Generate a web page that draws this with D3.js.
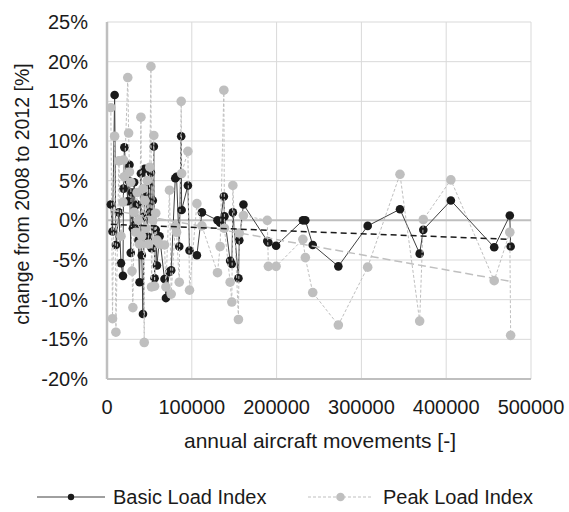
<!DOCTYPE html>
<html>
<head>
<meta charset="utf-8">
<script src="https://cdn.jsdelivr.net/npm/d3@7"></script>
<style>
  body { margin: 0; background: #fff; }
  text { font-family: "Liberation Sans", Arial, sans-serif; fill: #1a1a1a; }
</style>
</head>
<body>
<div id="chart"></div>
<script>
// annual aircraft movements per airport (x), sorted
const movements = [
    4500, 6500, 9000, 10500, 14000, 16500, 18800, 19500, 20500, 24500,
    25500, 26500, 28000, 29500, 30500, 32000, 34000, 35500, 37000, 38400,
    40000, 41000, 42400, 43900, 44500, 46000, 47500, 49000, 50500, 51800,
    52500, 54000, 55200, 56100, 57500, 58900, 62000, 67800, 69500, 73700,
    75700, 80500, 82000, 85200, 87500, 88000, 95400, 97300, 106000, 111900,
    130300, 133400, 137800, 138500, 145200, 147200, 148400, 155000, 156000, 160900,
    189000, 190300, 199400, 231000, 233900, 242600, 272800, 307400, 345500, 368700,
    373000, 405500, 456600, 475000, 476000
];
// change 2008 -> 2012 in %
const basicLoad = [
    2.0, -1.4, 15.8, -3.1, 1.0, -5.4, -7.0, 4.0, 9.2, 2.4,
    5.0, 7.0, -4.1, 3.5, -1.0, 4.8, -0.5, 2.0, -2.5, -7.8,
    5.9, -4.4, -11.8, 0.5, 6.5, 3.0, -2.0, 4.5, 1.0, 6.0,
    -3.5, 2.5, 9.3, -7.3, -1.2, -5.7, -2.0, -7.4, -9.8, -6.5,
    -6.3, 5.3, 5.5, -3.3, 10.6, 1.3, 4.4, -3.8, -4.4, 1.0,
    0.0, -0.3, 3.0, 0.5, -5.1, -5.5, 1.0, -7.3, -2.5, 2.0,
    -2.6, -2.8, -3.2, 0.0, 0.0, -3.1, -5.8, -0.7, 1.4, -4.2,
    -1.2, 2.5, -3.4, 0.6, -3.3
];
const peakLoad = [
    14.2, -12.4, 10.6, -14.1, 7.5, -2.0, 2.3, 7.6, 5.5, 18.0,
    11.0, 6.1, 4.8, -6.4, -11.0, 1.0, -1.5, 3.5, 0.0, -3.0,
    13.0, -2.0, 4.0, -15.4, 2.5, -1.0, 5.0, -3.0, 6.7, 19.4,
    -8.4, 0.0, 10.7, -8.3, 0.9, -2.5, -3.0, -3.1, -8.4, 3.8,
    -9.3, -0.8, -1.5, -7.8, 15.0, 5.9, 8.7, -8.8, 2.1, -0.7,
    -6.6, -3.3, 16.4, -1.0, -7.8, -10.3, 4.4, -12.5, -1.6, 0.6,
    0.0, -5.8, -5.8, -2.4, -4.7, -9.1, -13.2, -5.9, 5.8, -12.7,
    0.1, 5.1, -7.6, -1.5, -14.5
];
// linear trend end points [x, %]
const basicTrend = [[4500, -0.5], [476000, -2.4]];
const peakTrend = [[4500, 1.3], [476000, -7.7]];

const xTicks = [0, 100000, 200000, 300000, 400000, 500000];
const yTicks = [-20, -15, -10, -5, 0, 5, 10, 15, 20, 25];
const seriesNames = ["Basic Load Index", "Peak Load Index"];

const width = 569, height = 512;
const margin = {top: 22, right: 38, bottom: 133, left: 107};
const w = width - margin.left - margin.right;
const h = height - margin.top - margin.bottom;

const svg = d3.select("#chart").append("svg")
    .attr("width", width)
    .attr("height", height);

const x = d3.scaleLinear().domain([0, 500000]).range([margin.left, margin.left + w]);
const y = d3.scaleLinear().domain([-20, 25]).range([margin.top + h, margin.top]);

// grid
svg.append("g")
    .selectAll("line")
    .data(xTicks)
    .join("line")
    .attr("x1", d => x(d)).attr("x2", d => x(d))
    .attr("y1", y(25)).attr("y2", y(-20))
    .attr("stroke", "#d9d9d9")
    .attr("stroke-width", 1);

svg.append("g")
    .selectAll("line")
    .data(yTicks)
    .join("line")
    .attr("x1", x(0)).attr("x2", x(500000))
    .attr("y1", d => y(d)).attr("y2", d => y(d))
    .attr("stroke", d => d === 0 ? "#bfbfbf" : "#d9d9d9")
    .attr("stroke-width", d => d === 0 ? 2 : 1);

// axis lines
svg.append("line")
    .attr("x1", x(0)).attr("x2", x(0))
    .attr("y1", y(25)).attr("y2", y(-20))
    .attr("stroke", "#bfbfbf").attr("stroke-width", 2.5);
svg.append("line")
    .attr("x1", x(0)).attr("x2", x(500000))
    .attr("y1", y(-20)).attr("y2", y(-20))
    .attr("stroke", "#bfbfbf").attr("stroke-width", 2);

// tick labels
svg.append("g")
    .selectAll("text")
    .data(yTicks)
    .join("text")
    .attr("x", 88)
    .attr("y", d => y(d))
    .attr("dy", "0.35em")
    .attr("text-anchor", "end")
    .attr("font-size", 20)
    .text(d => d + "%");

svg.append("g")
    .selectAll("text")
    .data(xTicks)
    .join("text")
    .attr("x", d => x(d))
    .attr("y", 414)
    .attr("text-anchor", "middle")
    .attr("font-size", 20)
    .text(d => d);

svg.append("text")
    .attr("x", 320)
    .attr("y", 448)
    .attr("text-anchor", "middle")
    .attr("font-size", 21)
    .text("annual aircraft movements [-]");

svg.append("text")
    .attr("transform", "translate(29,194) rotate(-90)")
    .attr("text-anchor", "middle")
    .attr("font-size", 19.5)
    .text("change from 2008 to 2012 [%]");

const idx = d3.range(movements.length);

// Basic Load Index
svg.append("path")
    .datum(idx)
    .attr("fill", "none")
    .attr("stroke", "#404040")
    .attr("stroke-width", 1)
    .attr("d", d3.line().x(i => x(movements[i])).y(i => y(basicLoad[i])));
svg.append("g")
    .selectAll("circle")
    .data(idx)
    .join("circle")
    .attr("cx", i => x(movements[i]))
    .attr("cy", i => y(basicLoad[i]))
    .attr("r", 4.3)
    .attr("fill", "#1a1a1a");

// Peak Load Index
svg.append("path")
    .datum(idx)
    .attr("fill", "none")
    .attr("stroke", "#bfbfbf")
    .attr("stroke-width", 1)
    .attr("stroke-dasharray", "3,2")
    .attr("d", d3.line().x(i => x(movements[i])).y(i => y(peakLoad[i])));
svg.append("g")
    .selectAll("circle")
    .data(idx)
    .join("circle")
    .attr("cx", i => x(movements[i]))
    .attr("cy", i => y(peakLoad[i]))
    .attr("r", 4.8)
    .attr("fill", "#bfbfbf");

// trend lines
const trendLine = d3.line().x(d => x(d[0])).y(d => y(d[1]));
svg.append("path")
    .attr("d", trendLine(peakTrend))
    .attr("fill", "none")
    .attr("stroke", "#bfbfbf")
    .attr("stroke-width", 1.5)
    .attr("stroke-dasharray", "8,4");
svg.append("path")
    .attr("d", trendLine(basicTrend))
    .attr("fill", "none")
    .attr("stroke", "#1a1a1a")
    .attr("stroke-width", 1.5)
    .attr("stroke-dasharray", "6,4");

// legend
const legend = svg.append("g");
const legendItems = [
    {name: seriesNames[0], x0: 37, x1: 105, stroke: "#404040", dash: null, fill: "#1a1a1a", r: 3.2, tx: 113},
    {name: seriesNames[1], x0: 308, x1: 373, stroke: "#bfbfbf", dash: "3,2", fill: "#bfbfbf", r: 4.3, tx: 383}
];
legendItems.forEach(it => {
    legend.append("line")
        .attr("x1", it.x0).attr("x2", it.x1)
        .attr("y1", 497).attr("y2", 497)
        .attr("stroke", it.stroke)
        .attr("stroke-width", 1)
        .attr("stroke-dasharray", it.dash);
    legend.append("circle")
        .attr("cx", (it.x0 + it.x1) / 2)
        .attr("cy", 497)
        .attr("r", it.r)
        .attr("fill", it.fill);
    legend.append("text")
        .attr("x", it.tx)
        .attr("y", 504)
        .attr("font-size", 20)
        .text(it.name);
});
</script>
</body>
</html>
